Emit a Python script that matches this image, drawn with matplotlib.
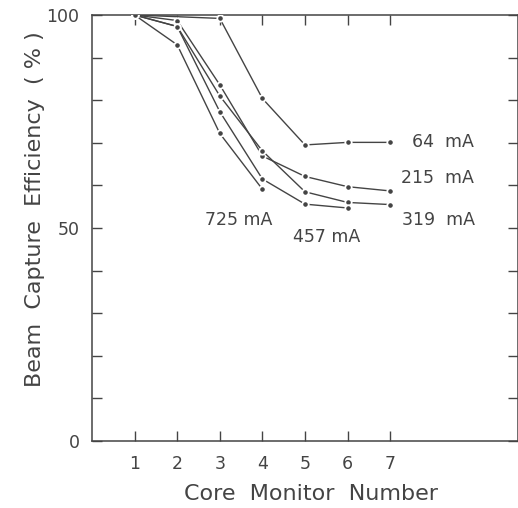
import numpy as np
import matplotlib.pyplot as plt

# Core monitor positions and capture efficiency (%) for each beam current
monitor_64 = [1, 3, 4, 5, 6, 7]
eff_64 = [100, 99.2, 80.4, 69.5, 70.1, 70.1]

monitor_215 = [1, 2, 3, 4, 5, 6, 7]
eff_215 = [100, 98.7, 83.6, 66.9, 62.1, 59.7, 58.7]

monitor_319 = [1, 2, 3, 4, 5, 6, 7]
eff_319 = [100, 97.3, 81.0, 68.1, 58.5, 56.0, 55.5]

monitor_457 = [1, 2, 3, 4, 5, 6]
eff_457 = [100, 97.3, 77.3, 61.5, 55.6, 54.7]

monitor_725 = [1, 2, 3, 4]
eff_725 = [100, 93.0, 72.2, 59.1]

series = [
    (monitor_64, eff_64, '64  mA', (7.50, 70.3)),
    (monitor_215, eff_215, '215  mA', (7.26, 61.8)),
    (monitor_319, eff_319, '319  mA', (7.28, 51.8)),
    (monitor_457, eff_457, '457 mA', (4.71, 48.0)),
    (monitor_725, eff_725, '725 mA', (2.65, 51.9)),
]

x_ticks = [1, 2, 3, 4, 5, 6, 7]
y_ticks = np.arange(0, 101, 10)
y_labels = ['0' if v == 0 else '50' if v == 50 else '100' if v == 100 else '' for v in y_ticks]

ink = '#444444'

fig = plt.figure(figsize=(5.18, 5.08), dpi=100, facecolor='white')
ax = fig.add_axes([92 / 518, 67 / 508, 426 / 518, 426 / 508])

# Draw each current as a line of small dots with a small gap around each dot
for xs, ys, label, pos in series:
    ax.plot(xs, ys, color=ink, linewidth=1.0, marker='o', markersize=4.6,
            markerfacecolor=ink, markeredgecolor='white', markeredgewidth=1.3,
            zorder=3)
    ax.text(pos[0], pos[1], label, fontsize=12.5, color=ink, ha='left', va='center')

ax.set_xlim(0, 10)
ax.set_ylim(0, 100)
ax.set_xticks(x_ticks)
ax.set_xticklabels([str(v) for v in x_ticks])
ax.set_yticks(y_ticks)
ax.set_yticklabels(y_labels)

ax.tick_params(axis='both', direction='in', length=7.5, width=1.0, color=ink,
               labelcolor=ink, labelsize=12.5, top=True, right=True)
ax.tick_params(axis='x', pad=10)
ax.tick_params(axis='y', pad=9)

for spine in ax.spines.values():
    spine.set_color(ink)
    spine.set_linewidth(1.1)

# Axis titles placed by hand, the way they sit in the original figure
fig.text(35 / 518, 1 - 209 / 508, 'Beam  Capture  Efficiency  ( % )', rotation=90,
         fontsize=16, color=ink, ha='center', va='center')
fig.text(311 / 518, 1 - 494 / 508, 'Core  Monitor  Number', fontsize=16,
         color=ink, ha='center', va='center')

fig.savefig('out.png', dpi=100, facecolor='white')
